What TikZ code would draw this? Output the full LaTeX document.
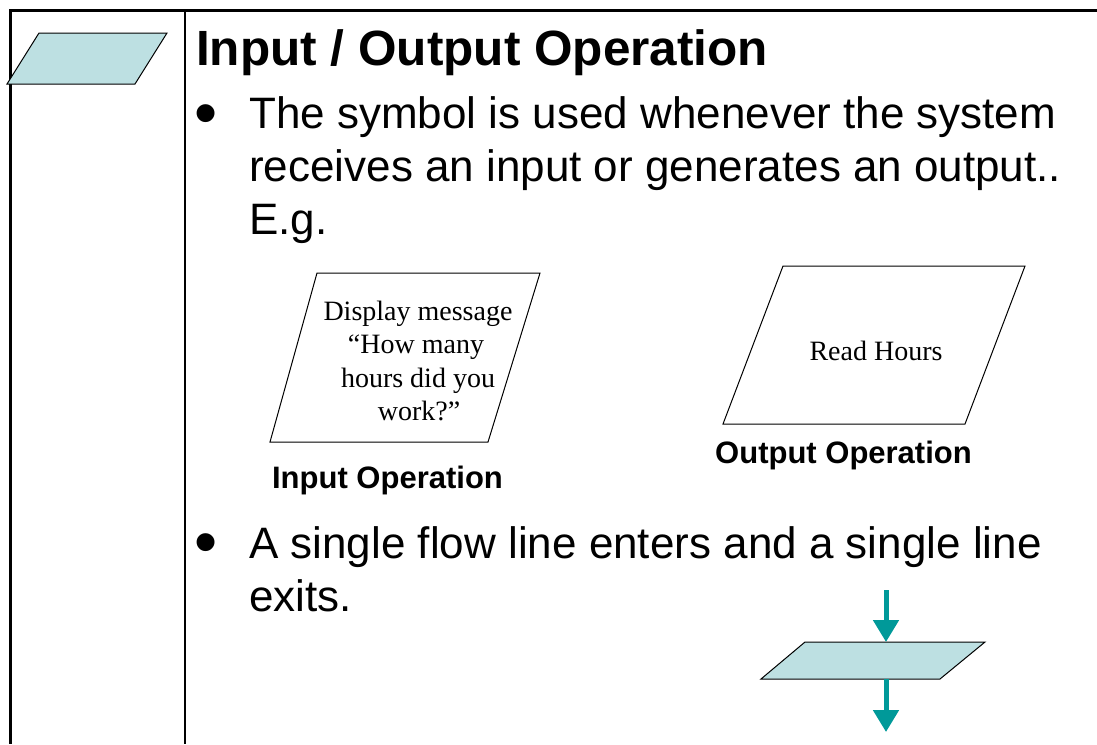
\documentclass[tikz,border=0pt]{standalone}
\usepackage{fontspec}
\setmainfont{Liberation Sans}
\newfontfamily\seriffam{Liberation Serif}
\usetikzlibrary{arrows.meta}
\definecolor{symfill}{HTML}{BDE0E2}
\definecolor{flowteal}{HTML}{009999}
\begin{document}
\begin{tikzpicture}[x=1pt,y=-1pt,
  txt/.style={inner sep=0pt, anchor=base west},
  titletxt/.style={txt, font=\fontsize{49.5}{59}\selectfont\bfseries},
  body/.style={txt, font=\fontsize{44}{53}\selectfont},
  bulletmark/.style={txt, font=\fontsize{66}{70}\selectfont},
  lbl/.style={inner sep=0pt, anchor=base, font=\fontsize{31}{37}\selectfont\bfseries},
  inshape/.style={inner sep=0pt, anchor=base, font=\fontsize{28}{33.5}\selectfont\seriffam},
  sym/.style={draw=black, line width=1pt, line join=miter},
  flow/.style={draw=flowteal, line width=5pt, -{Triangle[length=22pt,width=25pt]}},
]
\useasboundingbox (0,0) rectangle (1097,744);
% frame
\draw[line width=3pt] (1097,10) -- (10,10) -- (10,744);
\draw[line width=1.5pt] (185,10) -- (185,744);
% symbol in left column
\draw[sym, fill=symfill] (39,33) -- (167,33) -- (135,84) -- (7,84) -- cycle;
% title and first bullet
\node[titletxt] (title) at (196,65) {Input / Output Operation};
\node[bulletmark] (bul1) at (194,135) {•};
\node[body] (l1) at (249,128) {The symbol is used whenever the system};
\node[body] (l2) at (249,181) {receives an input or generates an output..};
\node[body] (l3) at (249,234) {E.g.};
% input example
\draw[sym, fill=white] (317,273) -- (540,273) -- (488,442) -- (270,442) -- cycle;
\node[inshape] (in1) at (418,320) {Display message};
\node[inshape] (in2) at (416,353) {“How many};
\node[inshape] (in3) at (418,387) {hours did you};
\node[inshape] (in4) at (419,420) {work?”};
\node[lbl] (inlbl) at (387.5,488) {Input Operation};
% output example
\draw[sym, fill=white] (783,266) -- (1025,266) -- (965,424) -- (723,424) -- cycle;
\node[inshape] (out1) at (876,360) {Read Hours};
\node[lbl] (outlbl) at (843.5,463) {Output Operation};
% second bullet
\node[bulletmark] (bul2) at (194,564) {•};
\node[body] (m1) at (249,558) {A single flow line enters and a single line};
\node[body] (m2) at (249,611) {exits.};
% flow symbol
\draw[sym, fill=symfill] (805,642) -- (985,642) -- (940,679) -- (761,679) -- cycle;
\coordinate (fin) at (886,590);
\coordinate (ftop) at (886,642);
\coordinate (fbot) at (886,679);
\coordinate (fout) at (886,732);
\draw[flow] (fin) -- (ftop);
\draw[flow] (fbot) -- (fout);
\end{tikzpicture}
\end{document}
